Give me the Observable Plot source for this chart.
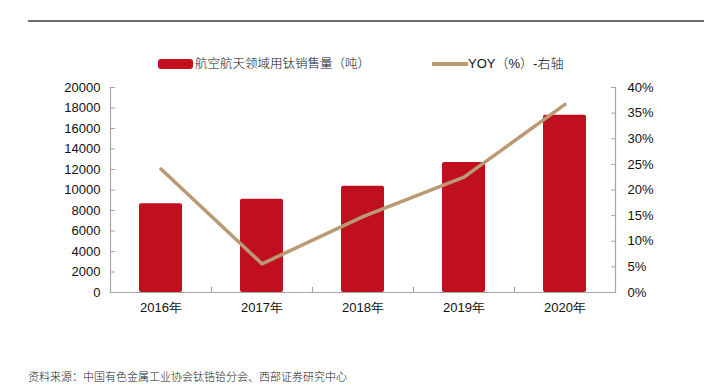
<!DOCTYPE html>
<html>
<head>
<meta charset="utf-8">
<script src="https://cdn.jsdelivr.net/npm/d3@7"></script>
<script src="https://cdn.jsdelivr.net/npm/@observablehq/plot@0.6"></script>
<style>
  html, body { margin: 0; padding: 0; background: #fff; }
  #wrap { position: relative; width: 704px; height: 387px; overflow: hidden; font-family: "Liberation Sans", Arial, sans-serif; }
  #topline { position: absolute; left: 28px; right: 0; top: 20px; height: 0; border-top: 2px solid #6e6e6e; }
  .lg { position: absolute; white-space: nowrap; color: #111; }
  #sw1 { position: absolute; left: 158px; top: 59px; width: 35px; height: 10px; background: #c00f1e; border-radius: 3px; }
  #t1 { left: 195px; top: 54px; font-size: 12.5px; line-height: 18px; font-family: "Noto Sans CJK SC", sans-serif; font-weight: 300; }
  #sw2 { position: absolute; left: 432px; top: 62px; width: 36px; height: 3.5px; background: #bb9a73; }
  #t2 { left: 468px; top: 54px; font-size: 13px; line-height: 18px; font-family: "Liberation Sans", "Noto Sans CJK SC", sans-serif; }
  #t2 .cjk { font-family: "Noto Sans CJK SC", sans-serif; font-weight: 300; }
  #plot { position: absolute; left: 0; top: 80px; }
  #src { position: absolute; left: 28px; top: 368px; font-size: 11px; line-height: 16px; color: #222; font-family: "Noto Sans CJK SC", sans-serif; font-weight: 300; white-space: nowrap; }
</style>
</head>
<body>
<div id="wrap">
  <div id="topline"></div>
  <div id="sw1"></div>
  <div class="lg" id="t1"></div>
  <div id="sw2"></div>
  <div class="lg" id="t2"></div>
  <div id="plot"></div>
  <div id="src"></div>
</div>
<script>
const years = ["2016年", "2017年", "2018年", "2019年", "2020年"];
const sales = [8650, 9100, 10370, 12680, 17300];
const yoy = [24.1, 5.6, 14.8, 22.5, 36.7];
const leftTicks = [0, 2000, 4000, 6000, 8000, 10000, 12000, 14000, 16000, 18000, 20000];
const rightTicks = [0, 5, 10, 15, 20, 25, 30, 35, 40];
const barLabel = "航空航天领域用钛销售量（吨）";
const lineLabel = "YOY（%）-右轴";
const sourceText = "资料来源：中国有色金属工业协会钛锆铪分会、西部证券研究中心";

document.getElementById("t1").textContent = barLabel;
document.getElementById("t2").innerHTML = 'YOY<span class="cjk">（</span>%<span class="cjk">）</span>-<span class="cjk">右轴</span>';
document.getElementById("src").textContent = sourceText;

const data = years.map((y, i) => ({year: y, sales: sales[i], yoy: yoy[i]}));
const leftMax = 20000, rightMax = 40;
const toLeft = v => v * leftMax / rightMax;

const W = 704, H = 250, mL = 110, mR = 89, mT = 7, mB = 38;
const step = (W - mL - mR) / years.length;
const axisColor = "#a6a6a6";

const chart = Plot.plot({
  width: W, height: H,
  marginLeft: mL, marginRight: mR, marginTop: mT, marginBottom: mB,
  style: {fontFamily: "'Liberation Sans', Arial, sans-serif", fontSize: "13px", color: "#111", background: "#fff"},
  x: {type: "band", domain: years, paddingInner: 0.57, paddingOuter: 0.285, label: null},
  y: {domain: [0, leftMax], label: null},
  marks: [
    Plot.barY(data, {x: "year", y: "sales", fill: "#c00f1e", rx: 2}),
    Plot.ruleY([0], {stroke: axisColor, strokeWidth: 1.2}),
    Plot.frame({anchor: "left", stroke: axisColor, strokeWidth: 1.2}),
    Plot.frame({anchor: "right", stroke: axisColor, strokeWidth: 1.2}),
    Plot.ruleX(years.slice(0, -1), {x: d => d, dx: step / 2, y1: 0, y2: 500, stroke: axisColor, strokeWidth: 1.2}),
    Plot.axisY(leftTicks, {anchor: "left", tickSize: -5, tickPadding: 15, tickFormat: d => String(d), stroke: axisColor, fill: "#111", label: null, fontSize: 13}),
    Plot.axisY(rightTicks.map(toLeft), {anchor: "right", tickSize: -5, tickPadding: 17, tickFormat: d => (d * rightMax / leftMax) + "%", stroke: axisColor, fill: "#111", label: null, fontSize: 13}),
    Plot.axisX({tickSize: 0, tickPadding: 10, label: null, fill: "#111", fontSize: 13}),
    Plot.line(data, {x: "year", y: d => toLeft(d.yoy), stroke: "#bb9a73", strokeWidth: 3.5, strokeLinejoin: "round", strokeLinecap: "round"})
  ]
});
document.getElementById("plot").appendChild(chart);
</script>
</body>
</html>
